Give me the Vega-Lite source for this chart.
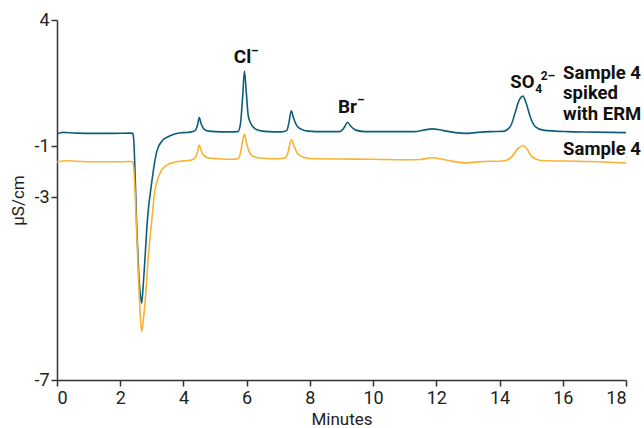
{
  "$schema": "https://vega.github.io/schema/vega-lite/v6.json",
  "width": 569,
  "height": 360,
  "autosize": {"type": "none"},
  "padding": {"left": 57, "top": 20, "right": 18, "bottom": 48},
  "config": {
    "view": {"stroke": null},
    "font": "Roboto, sans-serif",
    "axis": {
      "grid": false,
      "domainColor": "#333333",
      "domainWidth": 1.5,
      "tickColor": "#333333",
      "tickWidth": 1.5,
      "tickSize": 6,
      "labelColor": "#222222",
      "titleColor": "#222222",
      "labelFontSize": 18,
      "titleFontSize": 17,
      "titleFontWeight": "normal",
      "labelFont": "Roboto, sans-serif",
      "titleFont": "Roboto, sans-serif"
    }
  },
  "layer": [
    {
      "data": {"values": [
        {"s":"Sample 4 spiked with ERM","t":0.00,"v":-0.52},{"s":"Sample 4 spiked with ERM","t":0.19,"v":-0.46},{"s":"Sample 4 spiked with ERM","t":0.6,"v":-0.49},{"s":"Sample 4 spiked with ERM","t":1.2,"v":-0.50},{"s":"Sample 4 spiked with ERM","t":1.8,"v":-0.50},{"s":"Sample 4 spiked with ERM","t":2.30,"v":-0.49},{"s":"Sample 4 spiked with ERM","t":2.40,"v":-0.50},{"s":"Sample 4 spiked with ERM","t":2.43,"v":-0.8},{"s":"Sample 4 spiked with ERM","t":2.46,"v":-1.7},{"s":"Sample 4 spiked with ERM","t":2.52,"v":-3.6},{"s":"Sample 4 spiked with ERM","t":2.58,"v":-4.6},{"s":"Sample 4 spiked with ERM","t":2.63,"v":-5.10},{"s":"Sample 4 spiked with ERM","t":2.68,"v":-5.32},{"s":"Sample 4 spiked with ERM","t":2.71,"v":-5.10},{"s":"Sample 4 spiked with ERM","t":2.78,"v":-4.38},{"s":"Sample 4 spiked with ERM","t":2.86,"v":-3.5},{"s":"Sample 4 spiked with ERM","t":3.0,"v":-2.4},{"s":"Sample 4 spiked with ERM","t":3.08,"v":-1.7},{"s":"Sample 4 spiked with ERM","t":3.16,"v":-1.2},{"s":"Sample 4 spiked with ERM","t":3.35,"v":-0.76},{"s":"Sample 4 spiked with ERM","t":3.5,"v":-0.64},{"s":"Sample 4 spiked with ERM","t":3.73,"v":-0.52},{"s":"Sample 4 spiked with ERM","t":4.0,"v":-0.47},{"s":"Sample 4 spiked with ERM","t":4.21,"v":-0.45},{"s":"Sample 4 spiked with ERM","t":4.38,"v":-0.38},{"s":"Sample 4 spiked with ERM","t":4.45,"v":-0.15},{"s":"Sample 4 spiked with ERM","t":4.50,"v":0.13},{"s":"Sample 4 spiked with ERM","t":4.56,"v":-0.12},{"s":"Sample 4 spiked with ERM","t":4.65,"v":-0.33},{"s":"Sample 4 spiked with ERM","t":4.8,"v":-0.41},{"s":"Sample 4 spiked with ERM","t":5.0,"v":-0.43},{"s":"Sample 4 spiked with ERM","t":5.4,"v":-0.44},{"s":"Sample 4 spiked with ERM","t":5.72,"v":-0.43},{"s":"Sample 4 spiked with ERM","t":5.8,"v":-0.15},{"s":"Sample 4 spiked with ERM","t":5.87,"v":0.9},{"s":"Sample 4 spiked with ERM","t":5.93,"v":1.96},{"s":"Sample 4 spiked with ERM","t":5.99,"v":1.1},{"s":"Sample 4 spiked with ERM","t":6.05,"v":0.2},{"s":"Sample 4 spiked with ERM","t":6.15,"v":-0.15},{"s":"Sample 4 spiked with ERM","t":6.27,"v":-0.32},{"s":"Sample 4 spiked with ERM","t":6.45,"v":-0.40},{"s":"Sample 4 spiked with ERM","t":6.7,"v":-0.43},{"s":"Sample 4 spiked with ERM","t":7.1,"v":-0.44},{"s":"Sample 4 spiked with ERM","t":7.27,"v":-0.38},{"s":"Sample 4 spiked with ERM","t":7.34,"v":-0.05},{"s":"Sample 4 spiked with ERM","t":7.41,"v":0.40},{"s":"Sample 4 spiked with ERM","t":7.48,"v":0.12},{"s":"Sample 4 spiked with ERM","t":7.58,"v":-0.18},{"s":"Sample 4 spiked with ERM","t":7.72,"v":-0.33},{"s":"Sample 4 spiked with ERM","t":7.95,"v":-0.41},{"s":"Sample 4 spiked with ERM","t":8.4,"v":-0.43},{"s":"Sample 4 spiked with ERM","t":8.95,"v":-0.43},{"s":"Sample 4 spiked with ERM","t":9.08,"v":-0.28},{"s":"Sample 4 spiked with ERM","t":9.19,"v":-0.06},{"s":"Sample 4 spiked with ERM","t":9.3,"v":-0.22},{"s":"Sample 4 spiked with ERM","t":9.45,"v":-0.37},{"s":"Sample 4 spiked with ERM","t":9.75,"v":-0.43},{"s":"Sample 4 spiked with ERM","t":10.5,"v":-0.43},{"s":"Sample 4 spiked with ERM","t":11.3,"v":-0.43},{"s":"Sample 4 spiked with ERM","t":11.6,"v":-0.37},{"s":"Sample 4 spiked with ERM","t":11.86,"v":-0.32},{"s":"Sample 4 spiked with ERM","t":12.2,"v":-0.38},{"s":"Sample 4 spiked with ERM","t":12.6,"v":-0.47},{"s":"Sample 4 spiked with ERM","t":12.91,"v":-0.50},{"s":"Sample 4 spiked with ERM","t":13.3,"v":-0.46},{"s":"Sample 4 spiked with ERM","t":13.7,"v":-0.43},{"s":"Sample 4 spiked with ERM","t":14.1,"v":-0.42},{"s":"Sample 4 spiked with ERM","t":14.34,"v":-0.23},{"s":"Sample 4 spiked with ERM","t":14.49,"v":0.31},{"s":"Sample 4 spiked with ERM","t":14.6,"v":0.76},{"s":"Sample 4 spiked with ERM","t":14.74,"v":0.98},{"s":"Sample 4 spiked with ERM","t":14.86,"v":0.63},{"s":"Sample 4 spiked with ERM","t":14.97,"v":0.16},{"s":"Sample 4 spiked with ERM","t":15.13,"v":-0.23},{"s":"Sample 4 spiked with ERM","t":15.38,"v":-0.37},{"s":"Sample 4 spiked with ERM","t":16.13,"v":-0.43},{"s":"Sample 4 spiked with ERM","t":17.0,"v":-0.45},{"s":"Sample 4 spiked with ERM","t":18.0,"v":-0.47},
        {"s":"Sample 4","t":0.00,"v":-1.63},{"s":"Sample 4","t":0.3,"v":-1.58},{"s":"Sample 4","t":0.6,"v":-1.60},{"s":"Sample 4","t":1.2,"v":-1.62},{"s":"Sample 4","t":1.8,"v":-1.62},{"s":"Sample 4","t":2.30,"v":-1.61},{"s":"Sample 4","t":2.40,"v":-1.62},{"s":"Sample 4","t":2.43,"v":-1.9},{"s":"Sample 4","t":2.47,"v":-2.8},{"s":"Sample 4","t":2.55,"v":-4.3},{"s":"Sample 4","t":2.62,"v":-5.4},{"s":"Sample 4","t":2.68,"v":-5.94},{"s":"Sample 4","t":2.73,"v":-5.69},{"s":"Sample 4","t":2.81,"v":-5.1},{"s":"Sample 4","t":2.88,"v":-4.38},{"s":"Sample 4","t":3.0,"v":-3.5},{"s":"Sample 4","t":3.08,"v":-2.9},{"s":"Sample 4","t":3.15,"v":-2.45},{"s":"Sample 4","t":3.31,"v":-1.94},{"s":"Sample 4","t":3.47,"v":-1.75},{"s":"Sample 4","t":3.79,"v":-1.62},{"s":"Sample 4","t":4.26,"v":-1.55},{"s":"Sample 4","t":4.38,"v":-1.45},{"s":"Sample 4","t":4.45,"v":-1.2},{"s":"Sample 4","t":4.50,"v":-0.96},{"s":"Sample 4","t":4.56,"v":-1.18},{"s":"Sample 4","t":4.65,"v":-1.38},{"s":"Sample 4","t":4.8,"v":-1.47},{"s":"Sample 4","t":5.1,"v":-1.50},{"s":"Sample 4","t":5.5,"v":-1.52},{"s":"Sample 4","t":5.72,"v":-1.50},{"s":"Sample 4","t":5.8,"v":-1.3},{"s":"Sample 4","t":5.87,"v":-0.8},{"s":"Sample 4","t":5.93,"v":-0.54},{"s":"Sample 4","t":5.99,"v":-0.85},{"s":"Sample 4","t":6.07,"v":-1.2},{"s":"Sample 4","t":6.2,"v":-1.40},{"s":"Sample 4","t":6.4,"v":-1.47},{"s":"Sample 4","t":6.8,"v":-1.50},{"s":"Sample 4","t":7.2,"v":-1.48},{"s":"Sample 4","t":7.3,"v":-1.28},{"s":"Sample 4","t":7.41,"v":-0.74},{"s":"Sample 4","t":7.5,"v":-1.0},{"s":"Sample 4","t":7.6,"v":-1.28},{"s":"Sample 4","t":7.8,"v":-1.44},{"s":"Sample 4","t":8.1,"v":-1.50},{"s":"Sample 4","t":9.0,"v":-1.51},{"s":"Sample 4","t":10.0,"v":-1.52},{"s":"Sample 4","t":11.0,"v":-1.54},{"s":"Sample 4","t":11.5,"v":-1.53},{"s":"Sample 4","t":11.86,"v":-1.46},{"s":"Sample 4","t":12.3,"v":-1.55},{"s":"Sample 4","t":12.91,"v":-1.66},{"s":"Sample 4","t":13.5,"v":-1.61},{"s":"Sample 4","t":14.1,"v":-1.59},{"s":"Sample 4","t":14.34,"v":-1.48},{"s":"Sample 4","t":14.49,"v":-1.25},{"s":"Sample 4","t":14.6,"v":-1.08},{"s":"Sample 4","t":14.74,"v":-0.99},{"s":"Sample 4","t":14.86,"v":-1.1},{"s":"Sample 4","t":14.97,"v":-1.34},{"s":"Sample 4","t":15.13,"v":-1.50},{"s":"Sample 4","t":15.4,"v":-1.58},{"s":"Sample 4","t":16.13,"v":-1.59},{"s":"Sample 4","t":18.0,"v":-1.66}
      ]},
      "mark": {"type": "line", "strokeWidth": 1.6, "interpolate": "monotone"},
      "encoding": {
        "x": {
          "field": "t", "type": "quantitative",
          "scale": {"domain": [0, 18], "nice": false, "zero": false},
          "axis": {"values": [0,2,4,6,8,10,12,14,16,18], "title": "Minutes", "labelPadding": 3, "titlePadding": 4}
        },
        "y": {
          "field": "v", "type": "quantitative",
          "scale": {"domain": [-7, -3, -1, 4], "range": [360, 177, 126, 0], "nice": false, "zero": false},
          "axis": {"values": [-7, -3, -1, 4], "labelExpr": "'' + datum.value", "title": "µS/cm", "labelPadding": 2, "titlePadding": 6}
        },
        "color": {
          "field": "s", "type": "nominal",
          "scale": {"domain": ["Sample 4 spiked with ERM", "Sample 4"], "range": ["#0d5f78", "#f9b233"]},
          "legend": null
        }
      }
    },
    {
      "data": {"values": [
        {"label": "Cl", "t": 5.87, "v": 2.31},
        {"label": "Br", "t": 9.19, "v": 0.30}
      ]},
      "mark": {"type": "text", "fontSize": 19, "fontWeight": "bold", "baseline": "alphabetic", "align": "center", "clip": false, "color": "#111111"},
      "encoding": {
        "x": {"field": "t", "type": "quantitative"},
        "y": {"field": "v", "type": "quantitative"},
        "text": {"field": "label"}
      }
    },
    {
      "data": {"values": [
        {"label": "SO", "t": 14.34, "v": 1.31},
        {"label": "Sample 4", "t": 16.01, "v": 1.64},
        {"label": "spiked", "t": 16.01, "v": 0.85},
        {"label": "with ERM", "t": 16.01, "v": 0.05},
        {"label": "Sample 4", "t": 16.01, "v": -1.35}
      ]},
      "mark": {"type": "text", "fontSize": 18.5, "fontWeight": "bold", "baseline": "alphabetic", "align": "left", "clip": false, "color": "#111111"},
      "encoding": {
        "x": {"field": "t", "type": "quantitative"},
        "y": {"field": "v", "type": "quantitative"},
        "text": {"field": "label"}
      }
    },
    {
      "data": {"values": [
        {"label": "–", "t": 6.14, "v": 2.61},
        {"label": "–", "t": 9.49, "v": 0.67},
        {"label": "4", "t": 15.13, "v": 1.10},
        {"label": "2–", "t": 15.3, "v": 1.62}
      ]},
      "mark": {"type": "text", "fontSize": 12, "fontWeight": "bold", "baseline": "alphabetic", "align": "left", "clip": false, "color": "#111111"},
      "encoding": {
        "x": {"field": "t", "type": "quantitative"},
        "y": {"field": "v", "type": "quantitative"},
        "text": {"field": "label"}
      }
    }
  ]
}
